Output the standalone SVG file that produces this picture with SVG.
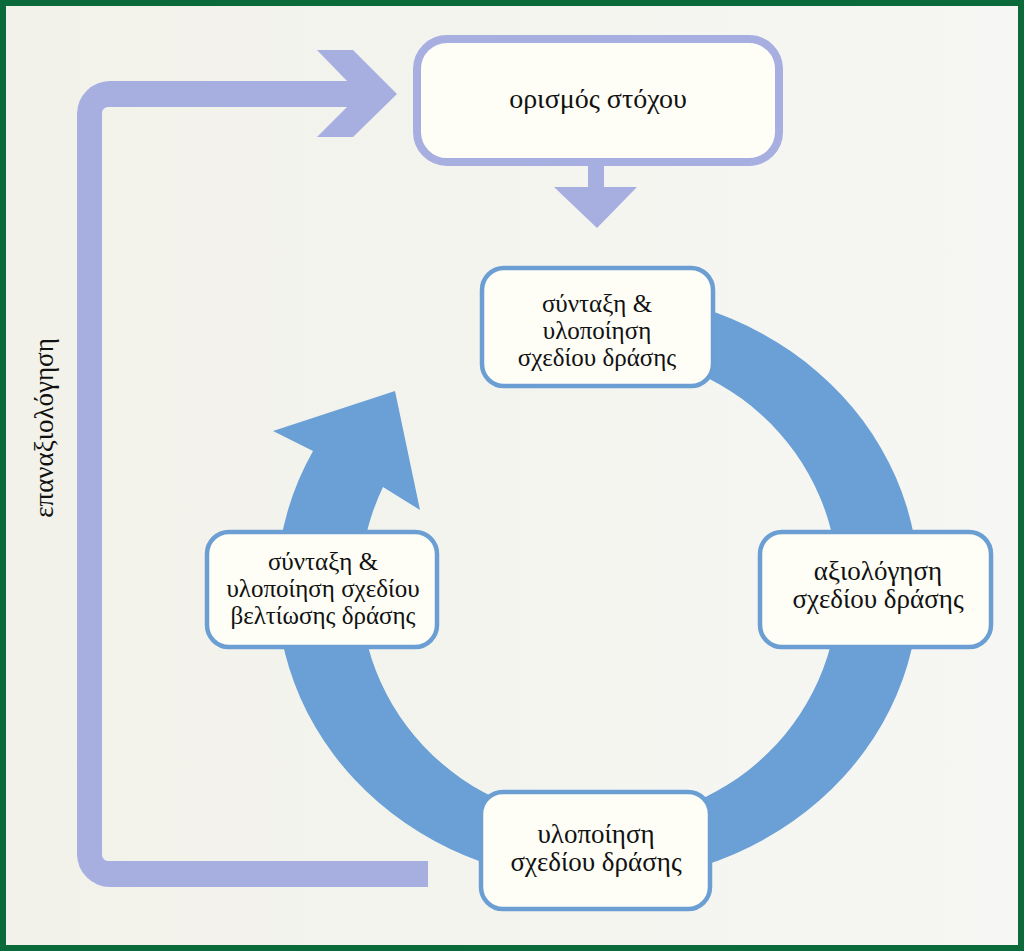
<svg xmlns="http://www.w3.org/2000/svg" width="1024" height="951" viewBox="0 0 1024 951">
<defs>
<linearGradient id="bg" x1="0" y1="0" x2="1" y2="0">
<stop offset="0" stop-color="#f2f2ea"/>
<stop offset="1" stop-color="#f6f6f4"/>
</linearGradient>
<style>
.lav{fill:#a7aee0;}
.ring{fill:#6aa0d6;}
.box{fill:#fefef6;stroke:#6b9fd3;stroke-width:4.5;}
.goal{fill:#fefef6;stroke:#a7aee0;stroke-width:8;}
.t{font-family:"Liberation Serif","Times New Roman",serif;fill:#111;text-anchor:middle;}
</style>
</defs>
<rect x="0" y="0" width="1024" height="951" fill="url(#bg)"/>
<rect x="3" y="3" width="1018" height="945" fill="none" stroke="#0a6a3a" stroke-width="6"/>

<g id="connectors">
  <g id="reevaluation-arrow">
    <path class="lav" d="M350,81 L110,81 A33,33 0 0 0 77,114 L77,854 A33,33 0 0 0 110,887 L428,887 L428,861 L108,861 A6,6 0 0 1 102,855 L102,113 A6,6 0 0 1 108,107 L350,107 Z"/>
    <polygon class="lav" points="317,50 353,50 397,94 353,137 317,137 347,107 347,81"/>
  </g>
  <g id="goal-down-arrow">
    <rect class="lav" x="588" y="160" width="16" height="28"/>
    <polygon class="lav" points="554,187 637,187 597,228"/>
  </g>
  <g id="cycle-ring">
    <path class="ring" d="M597.5,292 A321,295 0 1 1 313,451 L273,431 L395,391 L420,510 L383,487 A239,234.5 0 1 0 597.5,352.5 Z"/>
  </g>
  <text class="t" font-size="27" transform="translate(53,428) rotate(-90)">επαναξιολόγηση</text>
</g>

<g id="node-goal">
  <rect class="goal" x="417" y="39" width="362" height="123" rx="30"/>
  <text class="t" font-size="28" x="598" y="108">ορισμός στόχου</text>
</g>

<g id="node-plan">
  <rect class="box" x="482" y="268" width="231" height="118" rx="22"/>
  <text class="t" font-size="25" x="597" y="312">σύνταξη &amp;</text>
  <text class="t" font-size="25" x="597" y="339">υλοποίηση</text>
  <text class="t" font-size="25" x="597" y="366">σχεδίου δράσης</text>
</g>

<g id="node-evaluate">
  <rect class="box" x="760" y="532" width="231" height="115" rx="22"/>
  <text class="t" font-size="27" x="878" y="580">αξιολόγηση</text>
  <text class="t" font-size="27" x="878" y="608">σχεδίου δράσης</text>
</g>

<g id="node-implement">
  <rect class="box" x="481" y="792" width="229" height="117" rx="22"/>
  <text class="t" font-size="27" x="596" y="843">υλοποίηση</text>
  <text class="t" font-size="27" x="596" y="871">σχεδίου δράσης</text>
</g>

<g id="node-improve">
  <rect class="box" x="207" y="532" width="230" height="115" rx="22"/>
  <text class="t" font-size="25" x="323" y="570">σύνταξη &amp;</text>
  <text class="t" font-size="25" x="323" y="597">υλοποίηση σχεδίου</text>
  <text class="t" font-size="25" x="323" y="624">βελτίωσης δράσης</text>
</g>
</svg>
